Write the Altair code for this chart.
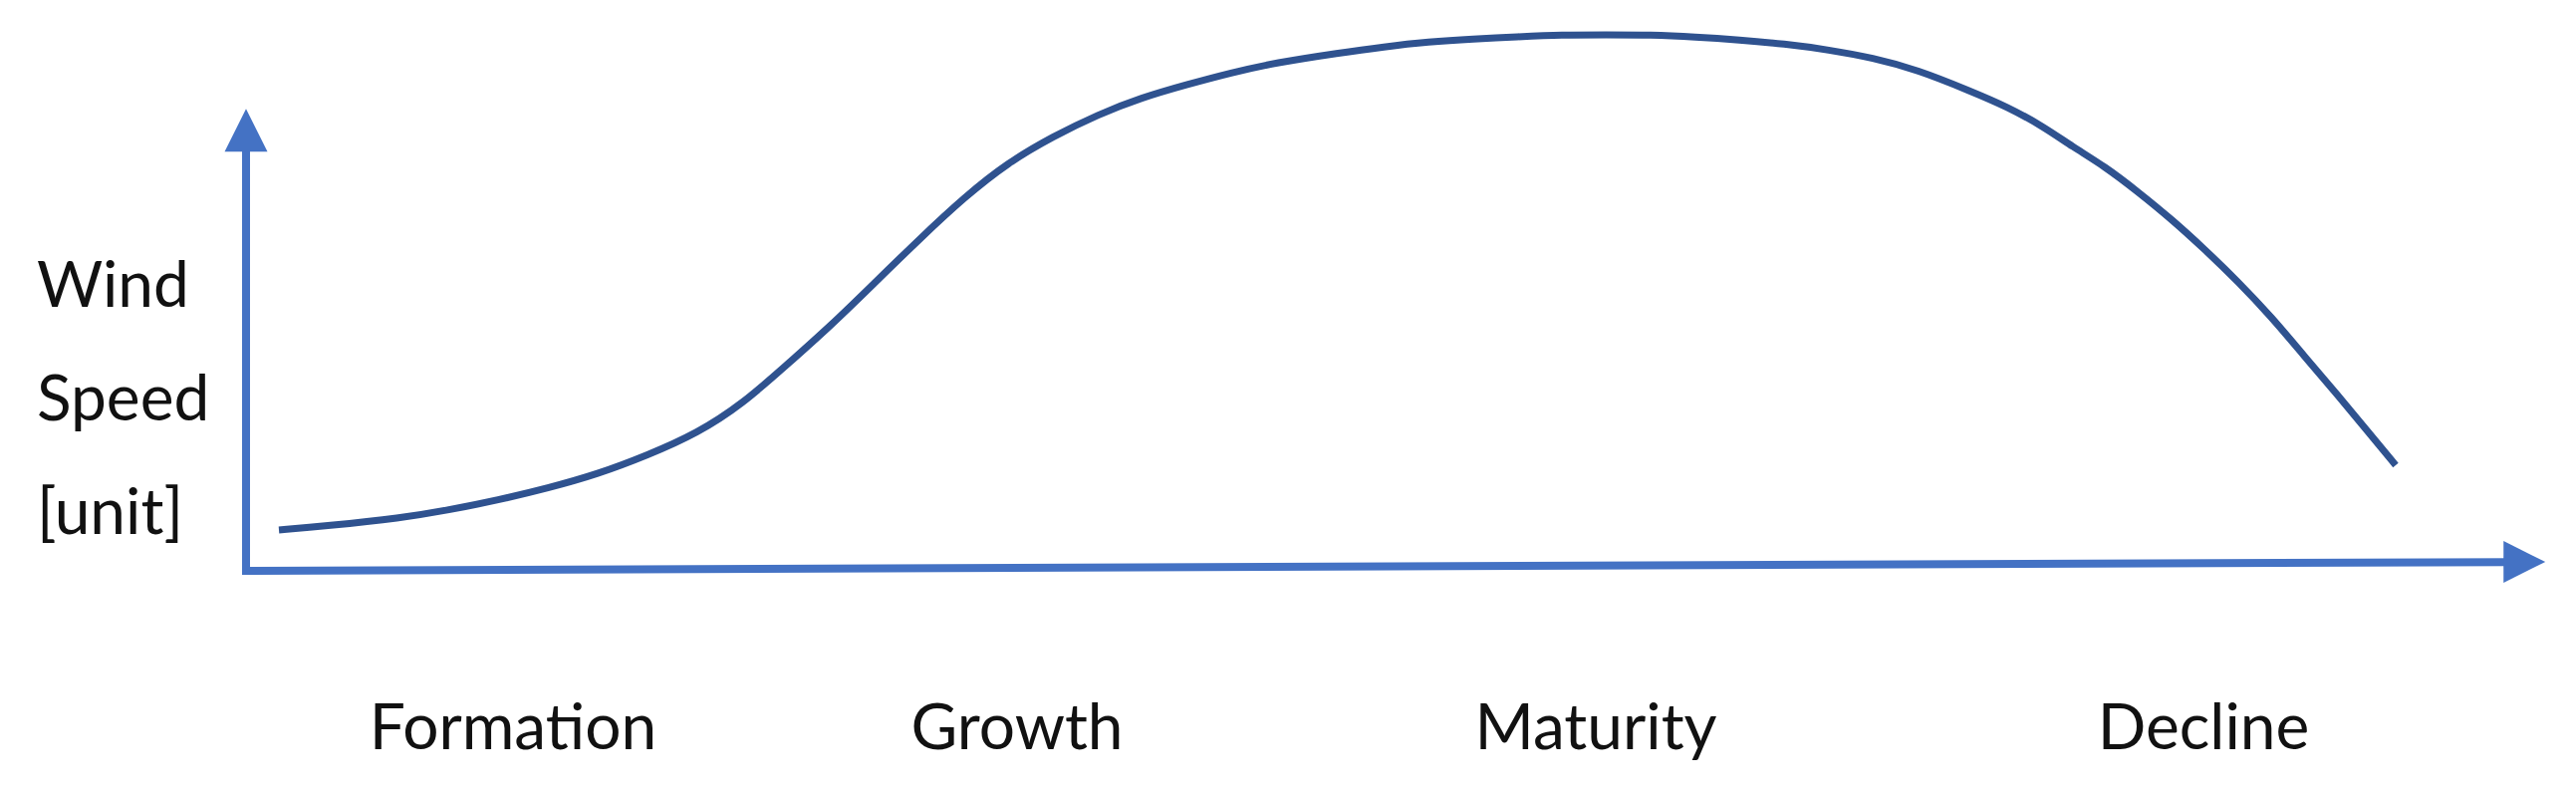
import altair as alt
import pandas as pd

# ---- data (time and wind speed in arbitrary units; axes run 0..100) ----
curve_t = [1.43, 3.47, 6.76, 8.80, 10.96, 13.13, 15.29, 17.46, 19.63, 21.62,
           23.48, 25.43, 27.38, 29.29, 31.24, 33.15, 35.10, 37.05, 38.95, 40.90,
           42.85, 44.76, 47.57, 49.48, 51.43, 53.38, 55.29, 57.24, 59.14, 61.09,
           63.04, 64.95, 66.90, 68.85, 70.75, 72.70, 74.96, 76.60, 78.25, 79.42,
           80.85, 82.32, 83.75, 85.18, 86.66, 88.09, 89.51, 90.99, 92.29, 93.50]
curve_speed = [8.86, 9.72, 11.45, 13.17, 15.33, 17.93, 20.95, 25.05, 29.81, 36.29,
               44.49, 53.13, 62.63, 71.92, 80.99, 88.55, 94.17, 98.92, 102.59, 105.40,
               107.99, 110.15, 112.31, 113.61, 114.69, 115.33, 115.77, 116.20, 116.20, 116.20,
               115.77, 115.12, 114.25, 112.96, 111.23, 108.64, 104.10, 100.65, 96.11, 92.01,
               87.69, 82.07, 76.24, 69.76, 62.63, 55.08, 46.65, 38.01, 30.24, 22.89]

phases = ["Formation", "Growth", "Maturity", "Decline"]
phase_t = [11.61, 33.54, 58.71, 85.14]
phase_label_level = -38.7

y_title_lines = ["Wind", "Speed", "[unit]"]
y_title_t = -9.1
y_title_level = 57.2

# axis arrows: shaft start/end and arrow-head centres
x_axis_t = [0.0, 98.2]
x_axis_speed = [0.0, 1.9]
y_axis_t = [0.0, 0.0]
y_axis_speed = [0.0, 90.9]
x_head = (99.1, 1.94)
y_head = (0.0, 95.5)

# ---- styling ----
AXIS_BLUE = "#4472C4"
CURVE_BLUE = "#2F528F"
FONT = "Lato"

xs = alt.Scale(domain=[-10.355, 100.39], nice=False, zero=False)
ys = alt.Scale(domain=[-44.28, 122.03], nice=False, zero=False)

def X(field):
    return alt.X(field, type="quantitative", scale=xs, axis=None)

def Y(field):
    return alt.Y(field, type="quantitative", scale=ys, axis=None)

curve_df = pd.DataFrame({"t": curve_t, "speed": curve_speed})
axes_df = pd.DataFrame({
    "t": [x_axis_t[0], y_axis_t[0]],
    "t2": [x_axis_t[1], y_axis_t[1]],
    "s": [x_axis_speed[0], y_axis_speed[0]],
    "s2": [x_axis_speed[1], y_axis_speed[1]],
})
xhead_df = pd.DataFrame({"t": [x_head[0]], "s": [x_head[1]]})
yhead_df = pd.DataFrame({"t": [y_head[0]], "s": [y_head[1]]})
phase_df = pd.DataFrame({"label": phases, "t": phase_t, "s": [phase_label_level] * len(phases)})
ytitle_df = pd.DataFrame({"label": ["\n".join(y_title_lines)], "t": [y_title_t], "s": [y_title_level]})

axes = alt.Chart(axes_df).mark_rule(
    color=AXIS_BLUE, strokeWidth=8, strokeCap="square"
).encode(x=X("t"), x2="t2", y=Y("s"), y2="s2")

xhead = alt.Chart(xhead_df).mark_point(
    shape="M-1,-1L1,0L-1,1Z", filled=True, size=1764, color=AXIS_BLUE, opacity=1
).encode(x=X("t"), y=Y("s"))

yhead = alt.Chart(yhead_df).mark_point(
    shape="M-1,1L0,-1L1,1Z", filled=True, size=1849, color=AXIS_BLUE, opacity=1
).encode(x=X("t"), y=Y("s"))

curve = alt.Chart(curve_df).mark_line(
    color=CURVE_BLUE, strokeWidth=7, interpolate="basis"
).encode(x=X("t"), y=Y("speed"))

phase_text = alt.Chart(phase_df).mark_text(
    font=FONT, fontSize=64, color="#111111", align="center", baseline="alphabetic"
).encode(x=X("t"), y=Y("s"), text="label:N")

ytitle_text = alt.Chart(ytitle_df).mark_text(
    font=FONT, fontSize=64, color="#111111", align="left", baseline="alphabetic",
    lineBreak="\n", lineHeight=114
).encode(x=X("t"), y=Y("s"), text="label:N")

chart = alt.layer(axes, xhead, yhead, curve, phase_text, ytitle_text).properties(
    width=2556, height=770, padding=0, background="white",
    autosize=alt.AutoSizeParams(type="none"),
).configure_view(strokeWidth=0, stroke="transparent")

chart.save("out.html", embed_options={"renderer": "svg", "actions": False})
